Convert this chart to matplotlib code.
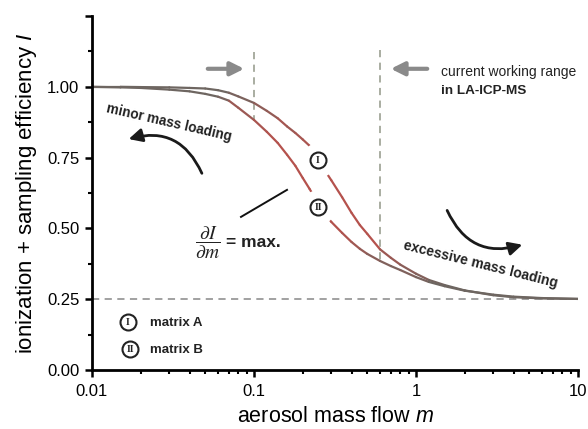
import matplotlib
matplotlib.use('Agg')
import matplotlib.pyplot as plt
from matplotlib.collections import LineCollection
import numpy as np

plt.rcParams['font.family'] = ['Liberation Sans', 'DejaVu Sans']
plt.rcParams['mathtext.fontset'] = 'custom'
plt.rcParams['mathtext.rm'] = 'Liberation Sans'
plt.rcParams['mathtext.it'] = 'Liberation Sans:italic'
plt.rcParams['mathtext.bf'] = 'Liberation Sans:bold'

# aerosol mass flow
mass_flow = [0.01, 0.015, 0.02, 0.03, 0.04, 0.05, 0.06, 0.07, 0.08, 0.1,
             0.12, 0.14, 0.16, 0.18, 0.2, 0.22, 0.25, 0.28, 0.3, 0.35,
             0.4, 0.45, 0.5, 0.6, 0.7, 0.8, 1.0, 1.2, 1.5, 2.0,
             3.0, 4.0, 6.0, 10.0]
# matrix A (curve I)
eff_a = [1.000, 1.000, 0.999, 0.998, 0.996, 0.994, 0.988, 0.979, 0.966, 0.943,
         0.915, 0.889, 0.860, 0.837, 0.814, 0.792, 0.742, 0.696, 0.670, 0.610,
         0.555, 0.512, 0.481, 0.426, 0.396, 0.372, 0.340, 0.318, 0.300, 0.281,
         0.264, 0.257, 0.253, 0.251]
# matrix B (curve II)
eff_b = [1.000, 0.998, 0.996, 0.990, 0.984, 0.975, 0.965, 0.951, 0.926, 0.883,
         0.841, 0.802, 0.760, 0.721, 0.678, 0.640, 0.587, 0.544, 0.523, 0.484,
         0.452, 0.428, 0.410, 0.385, 0.367, 0.353, 0.328, 0.311, 0.296, 0.280,
         0.266, 0.259, 0.254, 0.251]

x_ticks = [0.01, 0.1, 1, 10]
x_tick_labels = ['0.01', '0.1', '1', '10']
y_ticks = [0.0, 0.25, 0.5, 0.75, 1.0, 1.25]
y_tick_labels = ['0.00', '0.25', '0.50', '0.75', '1.00', '']

GRAY = np.array([0.43, 0.40, 0.38])
RED = np.array([0.71, 0.32, 0.30])


def px(x, y):
    # pixel position in the 588x429 picture -> data coords
    return 10 ** (-2 + (x - 92) / 162.0), (370 - y) / 283.0


def drawCurve(ax, xs, ys):
    lx = np.log10(xs)
    ys = np.asarray(ys)
    pts = np.column_stack([xs, ys])
    segs = np.stack([pts[:-1], pts[1:]], axis=1)
    slope = np.abs(np.diff(ys) / np.diff(lx))
    t = np.clip((slope - 0.15) / 0.45, 0, 1)[:, None]
    cols = GRAY * (1 - t) + RED * t
    lc = LineCollection(segs, colors=cols, linewidths=1.6, zorder=2, capstyle='round')
    ax.add_collection(lc)


def ringLabel(ax, x, y, txt, pad=True):
    if pad:
        ax.plot(*px(x, y), 'o', ms=25, mfc='white', mec='none', zorder=3)
    ax.plot(*px(x, y), 'o', ms=11.5, mfc='white', mec='#222222', mew=1.5, zorder=4)
    ax.text(*px(x, y + 0.5), txt, ha='center', va='center', fontsize=7,
            fontweight='bold', family='Liberation Serif', zorder=5, color='#222222')


fig = plt.figure(figsize=(5.88, 4.29), dpi=100)
ax = fig.add_axes([92 / 588, 59 / 429, 486 / 588, 354 / 429])
ax.set_xscale('log')
ax.set_xlim(0.01, 10)
ax.set_ylim(0, 1.25)

for s in ['top', 'right']:
    ax.spines[s].set_visible(False)
for s in ['left', 'bottom']:
    ax.spines[s].set_linewidth(2)

ax.set_xticks(x_ticks)
ax.set_xticklabels(x_tick_labels)
ax.set_yticks(y_ticks)
ax.set_yticklabels(y_tick_labels)
ax.set_yticks(np.arange(0.125, 1.25, 0.25), minor=True)
ax.tick_params(which='major', length=5, width=1.8, labelsize=12, color='black')
ax.tick_params(which='minor', length=3, width=1.5)
ax.tick_params(axis='x', which='major', pad=5)
ax.tick_params(axis='y', which='major', pad=4)

ax.set_xlabel('aerosol mass flow $\\mathit{m}$', fontsize=15.5, labelpad=5)
ax.set_ylabel('ionization + sampling efficiency $\\mathit{I}$', fontsize=16, labelpad=6)

# reference lines
ax.plot([0.01, 10], [0.25, 0.25], ls=(0, (4, 3)), color='#9a9a9a', lw=1.3, zorder=1)
ax.plot([0.1, 0.1], [px(0, 52)[1], px(0, 121)[1]], ls=(0, (4, 3)), color='#a3a79a', lw=1.3, zorder=1)
ax.plot([0.6, 0.6], [px(0, 50)[1], px(0, 263)[1]], ls=(0, (4, 3)), color='#a3a79a', lw=1.3, zorder=1)

drawCurve(ax, mass_flow, eff_a)
drawCurve(ax, mass_flow, eff_b)

ringLabel(ax, 318, 160, 'I')
ringLabel(ax, 318, 207, 'II')
ringLabel(ax, 128, 322, 'I', pad=False)
ringLabel(ax, 130, 349, 'II', pad=False)
ax.text(*px(150, 323), 'matrix A', fontsize=9.5, fontweight='bold', va='center', color='#222222')
ax.text(*px(150, 350), 'matrix B', fontsize=9.5, fontweight='bold', va='center', color='#222222')

# gray arrows marking the working range
ax.annotate('', xy=px(247, 69), xytext=px(205, 69),
            arrowprops=dict(arrowstyle='-|>', color='#8a8a8a', lw=3, mutation_scale=20))
ax.annotate('', xy=px(388, 69), xytext=px(430, 69),
            arrowprops=dict(arrowstyle='-|>', color='#8a8a8a', lw=3, mutation_scale=20))
ax.text(*px(441, 72), 'current working range', fontsize=10, va='center', color='#222222')
ax.text(*px(441, 91), 'in LA-ICP-MS', fontsize=9.7, fontweight='bold', va='center', color='#222222')

# curved black arrows
ax.annotate('', xy=px(126, 140), xytext=px(203, 176),
            arrowprops=dict(arrowstyle='-|>', color='#1a1a1a', lw=2, mutation_scale=20,
                            connectionstyle='arc3,rad=0.45'))
ax.annotate('', xy=px(525, 244), xytext=px(446, 208),
            arrowprops=dict(arrowstyle='-|>', color='#1a1a1a', lw=2, mutation_scale=20,
                            connectionstyle='arc3,rad=0.45'))

ax.text(*px(106, 112), 'minor mass loading', fontsize=9.8, fontweight='bold', rotation=-13,
        rotation_mode='anchor', ha='left', va='baseline', color='#222222')
ax.text(*px(403, 249), 'excessive mass loading', fontsize=10, fontweight='bold', rotation=-14,
        rotation_mode='anchor', ha='left', va='baseline', color='#222222')

# dI/dm = max. annotation
ax.plot(*zip(px(241, 217), px(287, 190)), color='#111111', lw=1.4)
ax.text(*px(208, 243), '$\\dfrac{\\partial I}{\\partial m}$', fontsize=14, ha='center', va='center',
        math_fontfamily='stix', color='#222222')
ax.text(*px(226, 243), '= max.', fontsize=12.5, fontweight='bold', ha='left', va='center', color='#222222')

fig.savefig('out.png', dpi=100)
